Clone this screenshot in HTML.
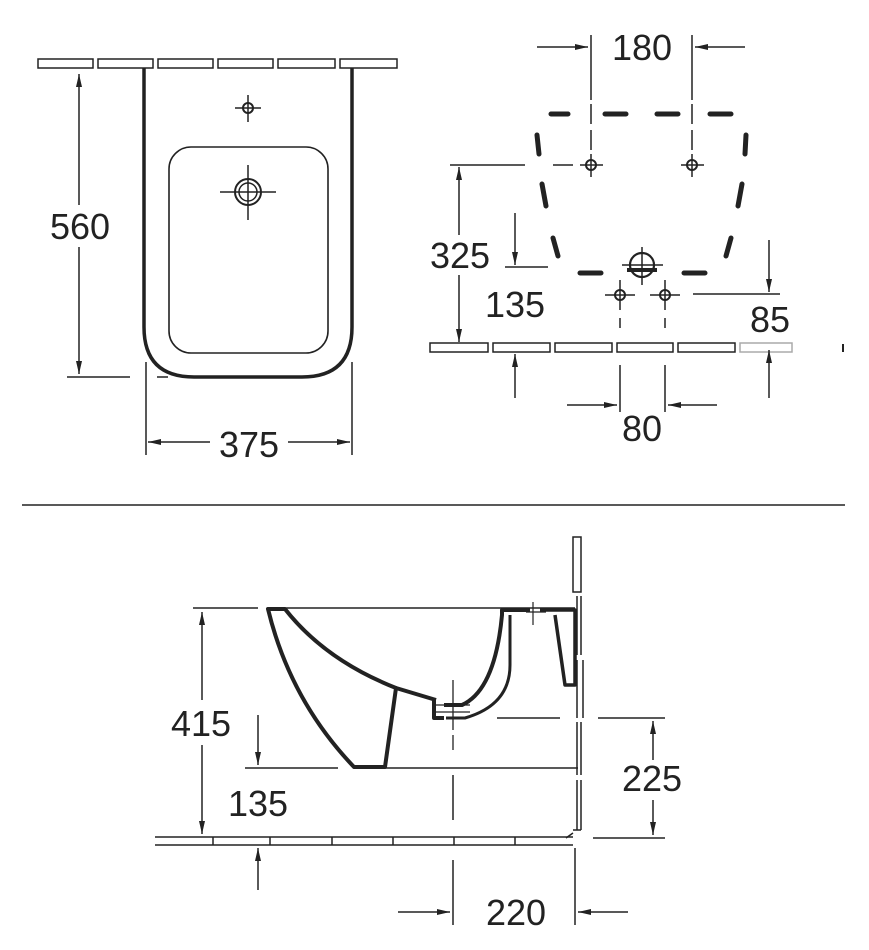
<!DOCTYPE html>
<html><head><meta charset="utf-8"><style>
html,body{margin:0;padding:0;background:#fff}
svg{display:block}
text{font-family:"Liberation Sans",Arial,sans-serif;font-size:36px;fill:#222}
</style></head><body>
<svg width="869" height="950" viewBox="0 0 869 950" xmlns="http://www.w3.org/2000/svg">
<defs>
<marker id="a" markerWidth="14" markerHeight="8" refX="13" refY="4" orient="auto" markerUnits="userSpaceOnUse">
<path d="M0,1 L13,4 L0,7 Z" fill="#222"/></marker>
</defs>
<g stroke="#222" fill="none">
<!-- TOP LEFT -->
<g stroke-width="1.5">
<rect x="38" y="59" width="55" height="9"/><rect x="98" y="59" width="55" height="9"/><rect x="158" y="59" width="55" height="9"/><rect x="218" y="59" width="55" height="9"/><rect x="278" y="59" width="57" height="9"/><rect x="340" y="59" width="57" height="9"/>
</g>
<path d="M144,68 V327 Q144,377 194,377 H302 Q352,377 352,327 V68" stroke-width="3.5"/>
<rect x="169" y="147" width="159" height="206" rx="22" stroke-width="1.6"/>
<circle cx="248" cy="108" r="5" stroke-width="2"/>
<path d="M235,108 H261 M248,95 V122" stroke-width="1.5"/>
<circle cx="248" cy="192" r="13" stroke-width="2"/><circle cx="248" cy="192" r="9" stroke-width="1.5"/>
<path d="M220,192 H276 M248,165 V220" stroke-width="1.5"/>
<path d="M79,205 V74" stroke-width="1.5" marker-end="url(#a)"/>
<path d="M79,247 V374" stroke-width="1.5" marker-end="url(#a)"/>
<path d="M67,377 H130 M157,377 H168" stroke-width="1.5"/>
<path d="M146,362 V455 M352,362 V455" stroke-width="1.5"/>
<path d="M210,442 H148" stroke-width="1.5" marker-end="url(#a)"/>
<path d="M288,442 H350" stroke-width="1.5" marker-end="url(#a)"/>
<!-- TOP RIGHT -->
<g stroke-width="1.5">
<rect x="430" y="343" width="58" height="9"/><rect x="493" y="343" width="57" height="9"/><rect x="555" y="343" width="57" height="9"/><rect x="617" y="343" width="56" height="9"/><rect x="678" y="343" width="57" height="9"/>
<rect x="740" y="343" width="52" height="9" stroke="#aaa"/>
</g>
<g stroke-width="5" stroke-linecap="round">
<path d="M551,114 H568 M605,114 H626 M657,114 H678 M710,114 H731"/>
<path d="M537,135 L539,154 M542,184 L546,206 M553,238 L558,256"/>
<path d="M746,135 L745,154 M742,184 L738,206 M731,238 L726,256"/>
<path d="M580,273 H601 M684,273 H705"/>
</g>
<path d="M591,35 V100 M591,104 V124 M591,130 V150 M692,35 V100 M692,104 V124 M692,130 V150" stroke-width="1.5"/>
<circle cx="591" cy="165" r="5" stroke-width="2"/><path d="M580,165 H603 M591,154 V177" stroke-width="1.5"/>
<circle cx="692" cy="165" r="5" stroke-width="2"/><path d="M681,165 H704 M692,154 V177" stroke-width="1.5"/>
<circle cx="642" cy="265" r="12" stroke-width="2.2"/><path d="M622,265 H663 M642,247 V285" stroke-width="1.5"/>
<path d="M627,270 H657" stroke-width="4"/>
<circle cx="620" cy="295" r="5" stroke-width="2"/><path d="M605,295 H635 M620,280 V310" stroke-width="1.5"/>
<circle cx="665" cy="295" r="5" stroke-width="2"/><path d="M650,295 H680 M665,280 V310" stroke-width="1.5"/>
<path d="M620,318 V328 M665,318 V328 M620,365 V412 M665,365 V412" stroke-width="1.5"/>
<path d="M537,47 H588" stroke-width="1.5" marker-end="url(#a)"/>
<path d="M745,47 H695" stroke-width="1.5" marker-end="url(#a)"/>
<path d="M567,405 H617" stroke-width="1.5" marker-end="url(#a)"/>
<path d="M717,405 H668" stroke-width="1.5" marker-end="url(#a)"/>
<path d="M450,165 H525 M553,165 H573" stroke-width="1.5"/>
<path d="M459,235 V167" stroke-width="1.5" marker-end="url(#a)"/>
<path d="M459,275 V342" stroke-width="1.5" marker-end="url(#a)"/>
<path d="M515,213 V265" stroke-width="1.5" marker-end="url(#a)"/>
<path d="M505,267 H548" stroke-width="1.5"/>
<path d="M515,398 V354" stroke-width="1.5" marker-end="url(#a)"/>
<path d="M769,240 V292" stroke-width="1.5" marker-end="url(#a)"/>
<path d="M693,294 H780" stroke-width="1.5"/>
<path d="M769,398 V350" stroke-width="1.5" marker-end="url(#a)"/>
<path d="M843,344 V352" stroke-width="2"/>
<!-- separator -->
<path d="M22,505 H845" stroke-width="1.5"/>
<!-- BOTTOM -->
<g stroke-width="1.5">
<path d="M155,837 H573 M155,845 H573"/>
<path d="M213,837 V845 M270,837 V845 M332,837 V845 M393,837 V845 M454,837 V845 M515,837 V845"/>
<rect x="573" y="537" width="8" height="55"/>
<path d="M577,596 V655 M581,596 V655 M577,660 V718 M583,660 V718 M577,722 V775 M581,722 V775 M577,780 V830 M581,780 V830"/>
<path d="M573,830 L581,830 M573,833 L566,838"/>
</g>
<path d="M270,608 H575" stroke-width="1.5"/>
<path d="M268,609 H285 Q325,660 396,688 L385,767 H354 Q290,700 268,609 Z" stroke-width="4" stroke-linejoin="round"/>
<path d="M396,688 L436,700" stroke-width="4"/>
<path d="M434,698 V718 H444 M444,705 H462 Q495,690 502,615 V610 H530" stroke-width="4" stroke-linejoin="round"/>
<path d="M446,718 H465 Q510,705 510,665 V615" stroke-width="3"/>
<path d="M540,610 H575 V685 H565 L555,615" stroke-width="3.5" stroke-linejoin="round"/>
<path d="M533,602 V625 M526,612 H546" stroke-width="1.2"/>
<path d="M453,680 V730 M453,735 V750 M436,705 H470 M436,712 H470" stroke-width="1.3"/>
<path d="M354,768 H578" stroke-width="1.5"/>
<path d="M497,718 H560 M598,718 H665 M593,838 H665" stroke-width="1.5"/>
<path d="M193,608 H258" stroke-width="1.5"/>
<path d="M202,700 V612" stroke-width="1.5" marker-end="url(#a)"/>
<path d="M202,745 V834" stroke-width="1.5" marker-end="url(#a)"/>
<path d="M258,715 V765" stroke-width="1.5" marker-end="url(#a)"/>
<path d="M245,768 H338" stroke-width="1.5"/>
<path d="M258,890 V848" stroke-width="1.5" marker-end="url(#a)"/>
<path d="M653,760 V721" stroke-width="1.5" marker-end="url(#a)"/>
<path d="M653,800 V835" stroke-width="1.5" marker-end="url(#a)"/>
<path d="M453,775 V820 M453,860 V925 M575,848 V925" stroke-width="1.5"/>
<path d="M398,912 H450" stroke-width="1.5" marker-end="url(#a)"/>
<path d="M628,912 H578" stroke-width="1.5" marker-end="url(#a)"/>
</g>
<g text-anchor="middle">
<text x="80" y="239">560</text>
<text x="249" y="457">375</text>
<text x="642" y="60">180</text>
<text x="460" y="268">325</text>
<text x="515" y="317">135</text>
<text x="770" y="332">85</text>
<text x="642" y="441">80</text>
<text x="201" y="736">415</text>
<text x="258" y="816">135</text>
<text x="652" y="791">225</text>
<text x="516" y="925">220</text>
</g>
</svg>
</body></html>
